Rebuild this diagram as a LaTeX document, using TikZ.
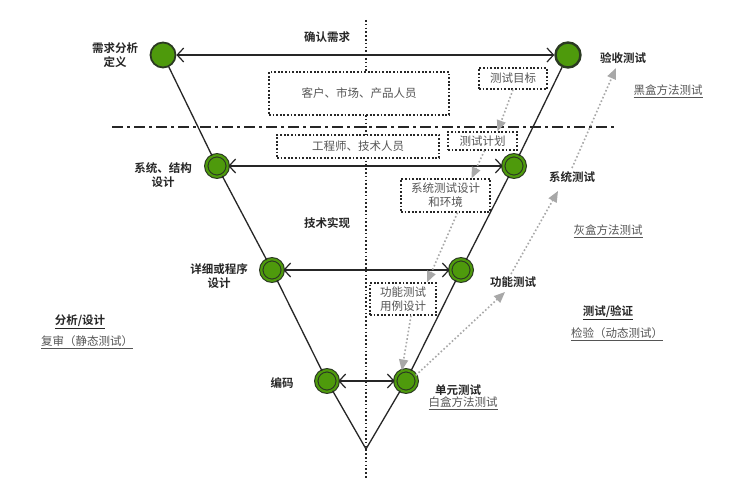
\documentclass[tikz,border=0pt]{standalone}
\usepackage{fontspec}
\setmainfont{Noto Sans CJK SC}[BoldFont={Noto Sans CJK SC Bold}]
\usetikzlibrary{arrows.meta}
\definecolor{vgreen}{HTML}{4E9A0C}
\definecolor{vdark}{HTML}{2B3A22}
\definecolor{lgray}{HTML}{A8A8A8}
\definecolor{tgray}{HTML}{555555}
\tikzset{
  x=1pt, y=-1pt,
  vc/.style={circle, draw=vdark, fill=vgreen, line width=1.8pt, minimum size=25pt, inner sep=0pt},
  vcd/.style={circle, draw=vdark, double=vgreen, double distance=2.2pt, line width=1.1pt, fill=vgreen, minimum size=21.5pt, inner sep=0pt},
  vline/.style={draw=black!85, line width=1.3pt},
  harrow/.style={draw=black!85, line width=1.2pt, {Straight Barb[length=6.5pt,width=14pt,line width=1.2pt]}-{Straight Barb[length=6.5pt,width=14pt,line width=1.2pt]}},
  garrow/.style={draw=lgray, line width=1.6pt, dash pattern=on 1.6pt off 2.2pt, -{Triangle[length=11pt,width=9pt]}},
  dbox/.style={draw=black!85, fill=white, line width=1.3pt, dash pattern=on 1.8pt off 1.8pt, font=\fontsize{11.5pt}{14pt}\selectfont, text=tgray, align=center, inner sep=0pt},
  blab/.style={font=\fontsize{11.5pt}{14pt}\selectfont\bfseries, text=black!85, align=center, inner sep=1pt},
  ulab/.style={font=\fontsize{11.5pt}{14pt}\selectfont, text=tgray, inner sep=1pt},
}
\newcommand{\ul}[1]{\underline{#1}}
\begin{document}
\begin{tikzpicture}
\useasboundingbox (0,0) rectangle (735,500);
\fill[white] (0,0) rectangle (735,500);
% guide lines
\coordinate (vt) at (366,20);
\coordinate (vb) at (366,478);
\draw[line width=1.5pt, dash pattern=on 1.6pt off 2.2pt, black!85] (vt) -- (vb);
\coordinate (hl) at (112,127);
\coordinate (hr) at (616,127);
\draw[line width=1.6pt, black!85, dash pattern=on 11pt off 4pt on 3pt off 4pt] (hl) -- (hr);
% circles
\node[vc]  (L1) at (163,55) {};
\node[vc, line width=2.4pt]  (R1) at (568,55) {};
\node[vcd] (L2) at (217,166) {};
\node[vcd] (R2) at (514,166) {};
\node[vcd] (L3) at (272,270) {};
\node[vcd] (R3) at (461,270) {};
\node[vcd] (L4) at (327,381) {};
\node[vcd] (R4) at (406,381) {};
\coordinate (V) at (366,449);
% V lines
\draw[vline] (L1) -- (L2);
\draw[vline] (L2) -- (L3);
\draw[vline] (L3) -- (L4);
\draw[vline] (L4) -- (V);
\draw[vline] (V) -- (R4);
\draw[vline] (R4) -- (R3);
\draw[vline] (R3) -- (R2);
\draw[vline] (R2) -- (R1);
% horizontal arrows
\draw[harrow] (L1) -- (R1);
\draw[harrow] (L2) -- (R2);
\draw[harrow] (L3) -- (R3);
\draw[harrow] (L4) -- (R4);
% dotted boxes
\node[dbox, minimum width=180pt, minimum height=43pt] (cust) at (359,93.5) {客户、市场、产品人员};
\node[dbox, minimum width=162pt, minimum height=23pt] (eng) at (358,146.5) {工程师、技术人员};
\node[dbox, minimum width=68pt, minimum height=21pt] (goal) at (513,78.5) {测试目标};
\node[dbox, minimum width=69pt, minimum height=18pt] (plan) at (482.5,141) {测试计划};
\node[dbox, minimum width=89pt, minimum height=33pt] (sysd) at (445.5,195.5) {系统测试设计\\和环境};
\node[dbox, minimum width=66pt, minimum height=32pt] (func) at (403,299) {功能测试\\用例设计};
% labels
\node[blab] (l1) at (115,55) {需求分析\\定义};
\node[blab] (req) at (327,37) {确认需求};
\node[blab] (l2) at (163,175) {系统、结构\\设计};
\node[blab] (tech) at (327,223) {技术实现};
\node[blab] (l3) at (219,276) {详细或程序\\设计};
\node[blab] (l4) at (282,383) {编码};
\node[blab] (r4) at (458,390) {单元测试};
\node[ulab] (wb) at (463,403) {\ul{白盒方法测试}};
\node[blab] (r3) at (513,282) {功能测试};
\node[blab] (r2) at (572,177) {系统测试};
\node[ulab] (gb) at (608,231) {\ul{灰盒方法测试}};
\node[blab] (r1) at (623,58) {验收测试};
\node[ulab] (bb) at (668,91) {\ul{黑盒方法测试}};
\node[blab] (ana) at (80,322) {\ul{分析/设计}};
\node[ulab] (rev) at (87,342) {\ul{复审（静态测试）}};
\node[blab] (tv) at (608,313) {\ul{测试/验证}};
\node[ulab] (dyn) at (617,334) {\ul{检验（动态测试）}};
% gray dotted arrows
\draw[garrow] (goal.south) -- ([xshift=15pt]plan.north);
\draw[garrow] ([xshift=2pt]plan.south) -- ([xshift=26pt]sysd.north);
\draw[garrow] ([xshift=12pt]sysd.south) -- ([xshift=24pt]func.north);
\draw[garrow] ([xshift=8pt]func.south) -- (R4.112);
\coordinate (t5) at (505,292);
\coordinate (s6) at (511,274);
\coordinate (t6) at (558,191);
\coordinate (s7) at (572,168);
\coordinate (t7) at (616,68);
\draw[garrow] (R4.30) -- (t5);
\draw[garrow] (s6) -- (t6);
\draw[garrow] (s7) -- (t7);
\end{tikzpicture}
\end{document}
